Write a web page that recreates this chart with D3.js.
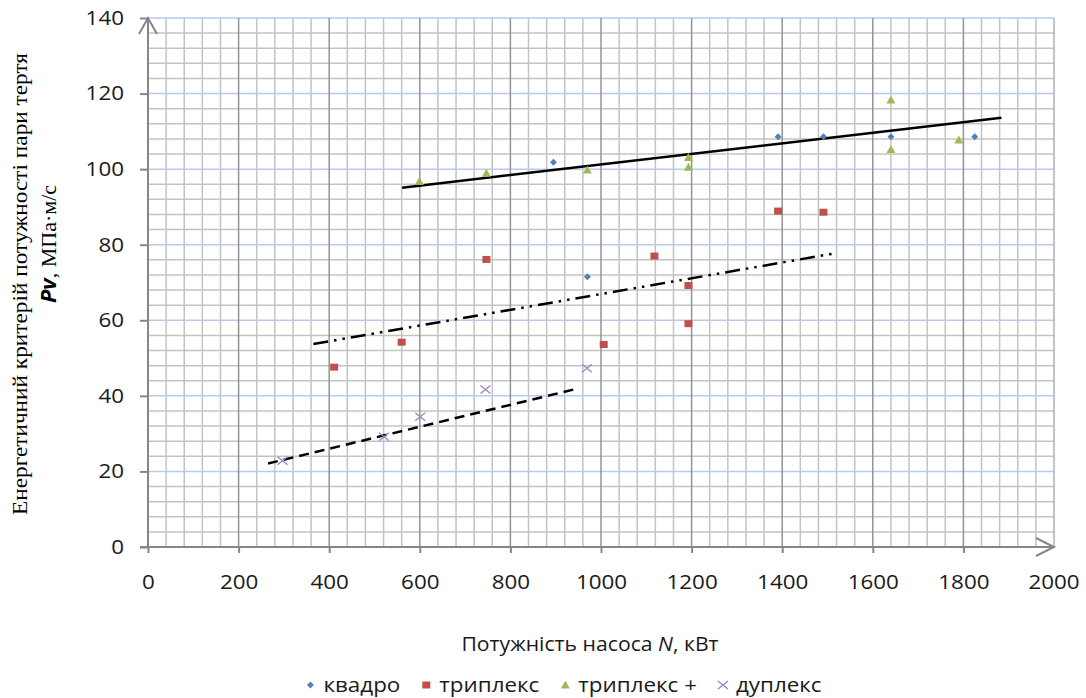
<!DOCTYPE html>
<html>
<head>
<meta charset="utf-8">
<script src="https://cdn.jsdelivr.net/npm/d3@7"></script>
<style>
  body { margin: 0; background: #fff; }
  svg { display: block; }
</style>
</head>
<body>
<svg id="chart" width="1086" height="698"></svg>
<script>
// series values
const kvadroX = [895, 970, 1391, 1491, 1640, 1825];
const kvadroY = [101.8, 71.5, 108.6, 108.6, 108.6, 108.6];

const triplexX = [411, 560, 747, 1006, 1118, 1193, 1193, 1391, 1491];
const triplexY = [47.6, 54.2, 76.1, 53.6, 77.0, 69.2, 59.1, 88.9, 88.6];

const triplexPlusX = [599, 747, 970, 1193, 1193, 1640, 1640, 1790];
const triplexPlusY = [96.7, 98.9, 99.8, 103.1, 100.5, 118.3, 105.2, 107.7];

const duplexX = [297, 521, 601, 745, 969];
const duplexY = [22.8, 29.2, 34.5, 41.7, 47.3];

// trend lines (start / end)
const trendSolid = [[561, 95.1], [1884, 113.6]];
const trendDashDot = [[365, 53.7], [1520, 77.8]];
const trendDashed = [[265, 22.1], [951, 42.0]];

const xTicks = [0, 200, 400, 600, 800, 1000, 1200, 1400, 1600, 1800, 2000];
const yTicks = [0, 20, 40, 60, 80, 100, 120, 140];

const legendNames = ['квадро', 'триплекс', 'триплекс +', 'дуплекс'];
const xTitle = 'Потужність насоса ';
const yTitle1 = 'Енергетичний критерій потужності пари тертя';
const yTitle2 = ', МПа·м/с';

const svg = d3.select('#chart');
const pLeft = 148, pRight = 1054, pTop = 18, pBottom = 547;
const sans = '"Open Sans", sans-serif';
const serif = '"Liberation Serif", "Times New Roman", serif';
const stretch = 1.12;
const axisCol = '#868686';
const fmt = d3.format('d');

const x = d3.scaleLinear().domain([0, 2000]).range([pLeft, pRight]);
const y = d3.scaleLinear().domain([0, 140]).range([pBottom, pTop]);

// grid
const grid = svg.append('g');
d3.range(4, 140, 4).filter(v => v % 20 !== 0).forEach(v => {
    grid.append('line')
        .attr('x1', pLeft).attr('x2', pRight)
        .attr('y1', y(v)).attr('y2', y(v))
        .attr('stroke', '#c3c3c3').attr('stroke-width', 1.5);
});
d3.range(40, 2001, 40).filter(v => v % 200 !== 0).forEach(v => {
    grid.append('line')
        .attr('x1', x(v)).attr('x2', x(v))
        .attr('y1', pTop).attr('y2', pBottom)
        .attr('stroke', '#c3c3c3').attr('stroke-width', 1.5);
});
yTicks.filter(v => v > 0).forEach(v => {
    grid.append('line')
        .attr('x1', pLeft).attr('x2', pRight)
        .attr('y1', y(v)).attr('y2', y(v))
        .attr('stroke', '#b8cbea').attr('stroke-width', 1.5);
});
xTicks.filter(v => v > 0).forEach(v => {
    grid.append('line')
        .attr('x1', x(v)).attr('x2', x(v))
        .attr('y1', pTop).attr('y2', pBottom)
        .attr('stroke', v === 2000 ? '#b0b0b0' : '#939393').attr('stroke-width', 1.5);
});

// axes
const yAxis = svg.append('g')
    .attr('transform', `translate(${pLeft},0)`)
    .call(d3.axisLeft(y).tickValues(yTicks).tickFormat(fmt).tickSize(8).tickPadding(16));
const xAxis = svg.append('g')
    .attr('transform', `translate(0,${pBottom})`)
    .call(d3.axisBottom(x).tickValues(xTicks.filter(v => v < 2000)).tickFormat(fmt).tickSize(6).tickPadding(22));
// label at 2000 sits right under the arrow
xAxis.append('g').attr('transform', `translate(${x(2000)},0)`)
    .append('text').attr('y', 28).attr('dy', '0.71em').attr('text-anchor', 'middle')
    .text(fmt(xTicks[xTicks.length - 1]));

[yAxis, xAxis].forEach(a => {
    a.select('.domain').remove();
    a.selectAll('line').attr('stroke', axisCol).attr('stroke-width', 2);
    a.selectAll('text')
        .attr('fill', '#1a1a1a')
        .style('font-family', sans).style('font-size', '20px')
        .attr('transform', `scale(${stretch},1)`);
});
yAxis.selectAll('text').attr('x', -24 / stretch);

svg.append('line')
    .attr('x1', pLeft).attr('x2', pLeft).attr('y1', pBottom).attr('y2', pTop)
    .attr('stroke', axisCol).attr('stroke-width', 2);
svg.append('line')
    .attr('x1', pLeft - 8).attr('x2', pRight).attr('y1', pBottom).attr('y2', pBottom)
    .attr('stroke', axisCol).attr('stroke-width', 2);
svg.append('path')
    .attr('d', `M${pLeft - 9},${pTop + 16}L${pLeft},${pTop}L${pLeft + 9},${pTop + 16}`)
    .attr('fill', 'none').attr('stroke', axisCol).attr('stroke-width', 2);
svg.append('path')
    .attr('d', `M${pRight - 18},${pBottom - 9}L${pRight},${pBottom}L${pRight - 18},${pBottom + 9}`)
    .attr('fill', 'none').attr('stroke', axisCol).attr('stroke-width', 2);

// trend lines
const line = d3.line().x(d => x(d[0])).y(d => y(d[1]));
[[trendSolid, null], [trendDashDot, '15,6,2.5,6,2.5,6'], [trendDashed, '10,6']].forEach(([pts, dash]) => {
    svg.append('path')
        .attr('d', line(pts))
        .attr('fill', 'none').attr('stroke', '#000').attr('stroke-width', 2.5)
        .attr('stroke-dasharray', dash);
});

// markers
const symbols = [
    {xs: kvadroX, ys: kvadroY, color: '#4f81bd', draw: g => g.append('path').attr('d', 'M0,-3.5L3.5,0L0,3.5L-3.5,0Z')},
    {xs: triplexX, ys: triplexY, color: '#c0504d', draw: g => g.append('rect').attr('x', -4).attr('y', -3.5).attr('width', 8).attr('height', 7)},
    {xs: triplexPlusX, ys: triplexPlusY, color: '#9bbb59', draw: g => g.append('path').attr('d', 'M0,-4.5L4.5,3.5L-4.5,3.5Z')},
    {xs: duplexX, ys: duplexY, color: '#9b86c0', draw: g => g.append('path').attr('d', 'M-5,-4L5,4M-5,4L5,-4').attr('stroke-width', 1.3)}
];
symbols.forEach(s => {
    s.xs.forEach((v, i) => {
        const g = svg.append('g')
            .attr('transform', `translate(${x(v)},${y(s.ys[i])})`)
            .attr('fill', s.color).attr('stroke', s.color).attr('stroke-width', 0);
        s.draw(g);
    });
});

// x title
const xt = svg.append('text')
    .attr('transform', 'translate(590,651) scale(1.06,1)')
    .attr('text-anchor', 'middle')
    .style('font-family', sans).style('font-size', '20px').attr('fill', '#1a1a1a');
xt.append('tspan').text(xTitle);
xt.append('tspan').style('font-style', 'italic').text('N');
xt.append('tspan').text(', кВт');

// y title
svg.append('text')
    .attr('transform', 'translate(27,284) rotate(-90) scale(1.11,1)')
    .attr('text-anchor', 'middle')
    .style('font-family', serif).style('font-size', '21px').attr('fill', '#000')
    .text(yTitle1);
const yt2 = svg.append('text')
    .attr('transform', 'translate(56,244) rotate(-90) scale(1.05,1)')
    .attr('text-anchor', 'middle')
    .style('font-family', serif).style('font-size', '21px').attr('fill', '#000');
yt2.append('tspan').style('font-family', sans).style('font-weight', 'bold').style('font-style', 'italic').text('Pv');
yt2.append('tspan').text(yTitle2);

// legend
const legend = svg.append('g');
let lx = 0;
legendNames.forEach((name, i) => {
    const item = legend.append('g').attr('transform', `translate(${lx},0)`);
    const mk = item.append('g').attr('transform', 'translate(0,-1)')
        .attr('fill', symbols[i].color).attr('stroke', symbols[i].color).attr('stroke-width', 0);
    symbols[i].draw(mk);
    const t = item.append('text')
        .attr('transform', `translate(13,6) scale(${stretch},1)`)
        .style('font-family', sans).style('font-size', '20px').attr('fill', '#1a1a1a')
        .text(name);
    lx += 13 + t.node().getComputedTextLength() * stretch + 26;
});
legend.attr('transform', `translate(${566 - (lx - 26) / 2},686)`);
</script>
</body>
</html>
